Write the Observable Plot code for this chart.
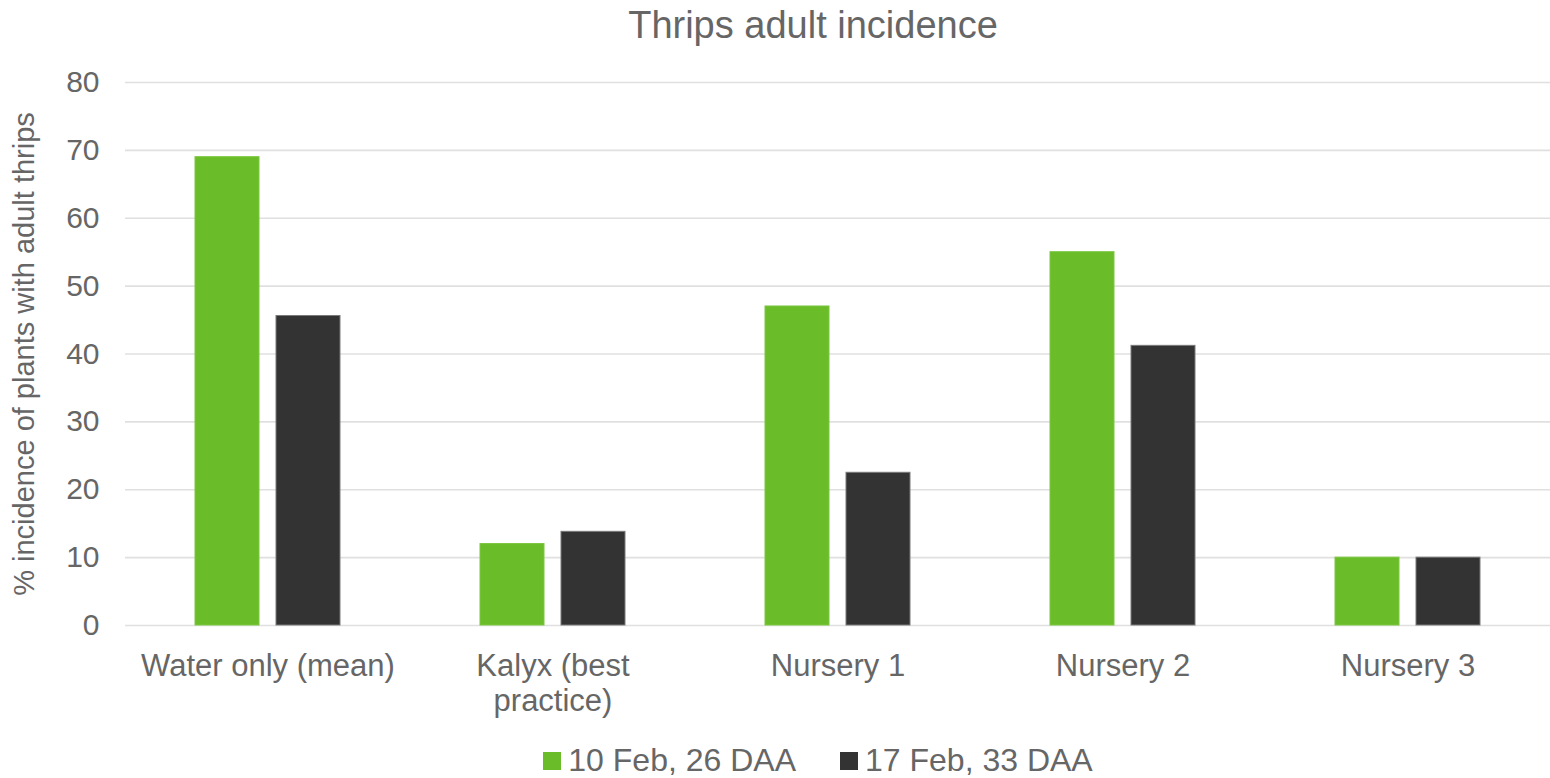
<!DOCTYPE html>
<html><head><meta charset="utf-8">
<script src="https://cdn.jsdelivr.net/npm/d3@7"></script>
<script src="https://cdn.jsdelivr.net/npm/@observablehq/plot@0.6"></script>
<style>
body{margin:0;overflow:hidden;background:#fff;font-family:"Liberation Sans",Arial,sans-serif;color:#666}
#title{height:50px;line-height:50px;font-size:38px;text-align:center;padding-left:76px;box-sizing:border-box;width:1550px}
#chart svg{display:block}
#legend{width:1550px;box-sizing:border-box;padding-left:86px;padding-top:6px;height:48px;line-height:48px;text-align:center;font-size:32px;white-space:nowrap}
.item{display:inline-block;margin:0 22px}
.sw{display:inline-block;width:18px;height:18px;margin-right:7px;vertical-align:middle;position:relative;top:-2px}
</style></head><body>
<div id="title">Thrips adult incidence</div>
<div id="chart"></div>
<div id="legend"></div>
<script>
const categories = ["Water only (mean)", "Kalyx (best practice)", "Nursery 1", "Nursery 2", "Nursery 3"];
const categoryLabels = ["Water only (mean)", "Kalyx (best\npractice)", "Nursery 1", "Nursery 2", "Nursery 3"];
const series = ["10 Feb, 26 DAA", "17 Feb, 33 DAA"];
const values10Feb = [69, 12, 47, 55, 10];
const values17Feb = [45.6, 13.8, 22.5, 41.2, 10];
const colors = ["#6abd28", "#333333"];
const strokes = ["#7cc640", "#7a7a7a"];
const yTicks = [0, 10, 20, 30, 40, 50, 60, 70, 80];
const yLabel = "% incidence of plants with adult thrips";

const rows = [];
categories.forEach((c, i) => {
  rows.push({category: c, series: series[0], value: values10Feb[i]});
  rows.push({category: c, series: series[1], value: values17Feb[i]});
});

const chart = Plot.plot({
  width: 1550,
  height: 680,
  marginLeft: 125,
  marginRight: 0,
  marginTop: 32,
  marginBottom: 105,
  style: {fontFamily: "'Liberation Sans', Arial, sans-serif", color: "#666666", background: "#fff"},
  fx: {domain: categories, padding: 0, label: null},
  x: {domain: series, paddingInner: 0.21, paddingOuter: 0.845, axis: null},
  y: {domain: [0, 80]},
  marks: [
    Plot.ruleY(yTicks, {stroke: "#e0e0e0", strokeWidth: 1.6}),
    ...series.map((s, k) => Plot.barY(rows, {
      filter: d => d.series === s,
      fx: "category", x: "series", y: "value",
      fill: colors[k], stroke: strokes[k], strokeWidth: 1
    })),
    Plot.axisY({ticks: yTicks, tickSize: 0, tickPadding: 26, fontSize: 30, label: null}),
    Plot.axisY({ticks: [], tickSize: 0, fontSize: 29,
      label: yLabel, labelAnchor: "center", labelOffset: 112, labelArrow: "none"}),
    Plot.axisFx({anchor: "bottom", tickSize: 0, tickPadding: 26, fontSize: 31, lineHeight: 1.13, label: null,
      tickFormat: d => categoryLabels[categories.indexOf(d)]})
  ]
});
document.getElementById("chart").appendChild(chart);

const legend = document.getElementById("legend");
series.forEach((s, k) => {
  const item = document.createElement("span");
  item.className = "item";
  const sw = document.createElement("span");
  sw.className = "sw";
  sw.style.background = colors[k];
  item.appendChild(sw);
  item.appendChild(document.createTextNode(s));
  legend.appendChild(item);
});
</script>
</body></html>
